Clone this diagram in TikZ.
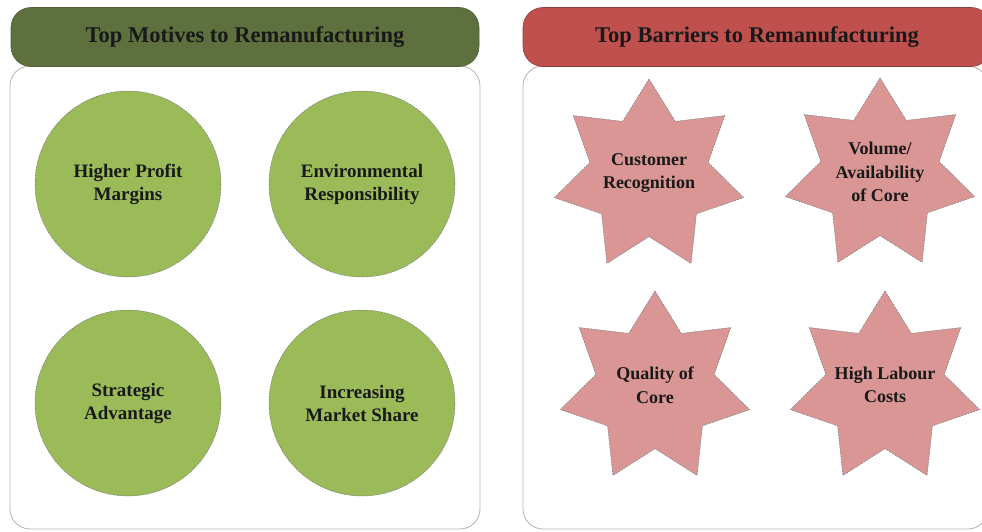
\documentclass[tikz,border=0pt]{standalone}
\usepackage{fontspec}
\setmainfont{Liberation Serif}
\usetikzlibrary{shapes.geometric}
\definecolor{oliveheader}{RGB}{94,112,62}
\definecolor{redheader}{RGB}{192,80,77}
\definecolor{motivegreen}{RGB}{155,187,89}
\definecolor{barrierpink}{RGB}{217,150,148}

\begin{document}
\begin{tikzpicture}[x=1pt, y=-1pt,
    panel/.style={draw=black!30, line width=0.8pt, rounded corners=20pt},
    header/.style={rectangle, rounded corners=20pt, line width=0.6pt, minimum width=468pt, minimum height=59pt, font=\bfseries\fontsize{22.5}{26}\selectfont, text=black!90},
    motive/.style={circle, fill=motivegreen, draw=black!55, line width=0.5pt, dash pattern=on 1.5pt off 1pt, minimum size=186pt, inner sep=0pt, align=center, font=\bfseries\fontsize{19}{23}\selectfont, text=black!90},
    barrier/.style={star, star points=7, star point ratio=1.6, fill=barrierpink, draw=black!50, line width=0.5pt, dash pattern=on 2pt off 1pt, minimum size=194pt, inner sep=0pt},
    barriertext/.style={align=center, font=\bfseries\fontsize{18}{23.5}\selectfont, text=black!90, yshift=3pt}]
    \useasboundingbox (0,0) rectangle (982,531);
    \clip (0,0) rectangle (982,531);

    % panels
    \draw[panel] (10,66) rectangle (480,529);
    \draw[panel] (523,66) rectangle (988,529);

    % headers
    \node[header, fill=oliveheader, draw=oliveheader!85!black] (motives) at (245,37) {Top Motives to Remanufacturing};
    \node[header, fill=redheader, draw=redheader!75!black] (barriers) at (757,37) {Top Barriers to Remanufacturing};

    % motives
    \node[motive] (profit) at (128,184) {Higher Profit\\Margins};
    \node[motive] (environment) at (362,184) {Environmental\\Responsibility};
    \node[motive] (strategic) at (128,403) {Strategic\\Advantage};
    \node[motive] (share) at (362,403) {Increasing\\Market Share};

    % barriers
    \node[barrier, label={[barriertext]center:Customer\\Recognition}] (customer) at (649,176) {};
    \node[barrier, label={[barriertext]center:Volume/\\Availability\\of Core}] (volume) at (880,175) {};
    \node[barrier, label={[barriertext]center:Quality of\\Core}] (quality) at (655,388) {};
    \node[barrier, label={[barriertext]center:High Labour\\Costs}] (labour) at (885,388) {};
\end{tikzpicture}
\end{document}
